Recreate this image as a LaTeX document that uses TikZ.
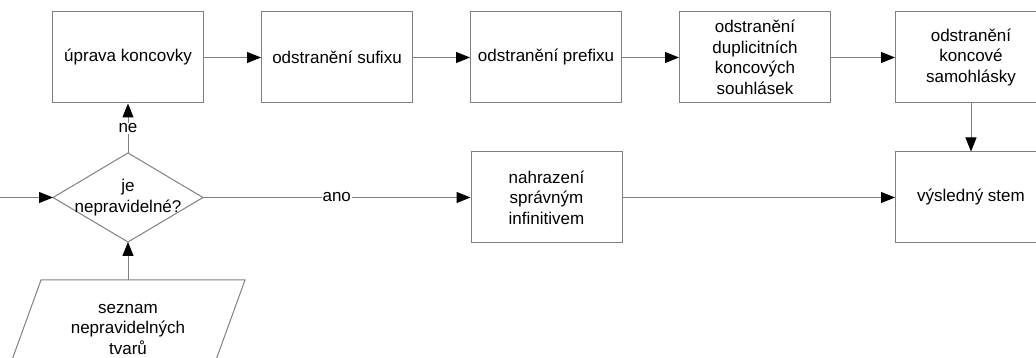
\documentclass[tikz,border=0pt]{standalone}
\usepackage{fontspec}
\setmainfont{Liberation Sans}
\usetikzlibrary{arrows.meta,shapes.geometric}
\definecolor{linegray}{HTML}{808080}
\begin{document}
\begin{tikzpicture}[x=1pt,y=1pt,
  txt/.style={font=\fontsize{17}{20.5}\selectfont, align=center},
  box/.style={txt, draw=linegray, line width=1pt, minimum width=151pt, minimum height=91pt, inner sep=2pt},
  flow/.style={draw=linegray, line width=1pt, -{Triangle[length=14pt,width=11pt,color=black]}},
  plain/.style={draw=linegray, line width=1pt},
  lab/.style={font=\fontsize{17}{20.5}\selectfont, fill=white, inner sep=1pt}
]
\useasboundingbox (0,0) rectangle (1036,358);
\clip (0,0) rectangle (1036,358);

\node[box] (uprava) at (128,300.5) {úprava koncovky};
\node[box] (sufix) at (337,300.5) {odstranění sufixu};
\node[box] (prefix) at (546,300.5) {odstranění prefixu};
\node[box] (dup) at (755,300.5) {odstranění\\duplicitních\\koncových\\souhlásek};
\node[box] (samo) at (971,300.5) {odstranění\\koncové\\samohlásky};
\node[box] (stem) at (971,160.5) {výsledný stem};
\node[box] (nahr) at (546.5,160.5) {nahrazení\\správným\\infinitivem};

% decision diamond
\draw[plain] (53,160.5) -- (128,205) -- (203,160.5) -- (128,116) -- cycle;
\node[txt, minimum width=150pt, minimum height=89pt, inner sep=0pt, outer sep=0pt] (dec) at (128,160.5) {je\\nepravidelné?};

% parallelogram (data input)
\draw[plain] (41,78) -- (245,78) -- (212,-13) -- (8,-13) -- cycle;
\node[txt, minimum height=99pt, inner sep=0pt, outer sep=0pt] (src) at (128,28.5) {seznam\\nepravidelných\\tvarů};

\coordinate (start) at (0,160.5);

\draw[flow] (start) -- (dec.west);
\draw[flow] (src.north) -- (dec.south);
\draw[flow] (dec.north) -- node[lab] {ne} (uprava.south);
\draw[flow] (dec.east) -- node[lab, pos=0.5] {ano} (nahr.west);
\draw[flow] (nahr.east) -- (stem.west);
\draw[flow] (uprava.east) -- (sufix.west);
\draw[flow] (sufix.east) -- (prefix.west);
\draw[flow] (prefix.east) -- (dup.west);
\draw[flow] (dup.east) -- (samo.west);
\draw[flow] (samo.south) -- (stem.north);
\end{tikzpicture}
\end{document}
